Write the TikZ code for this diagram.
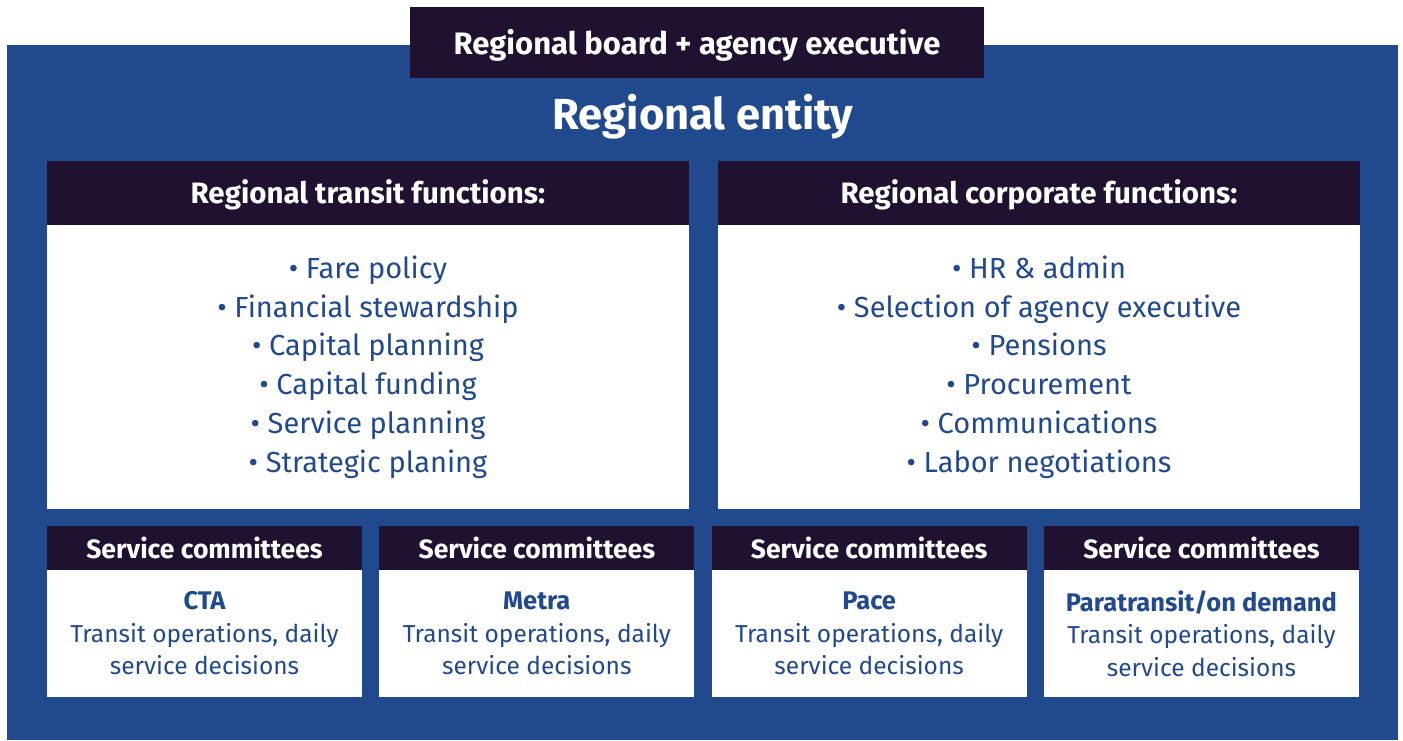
\documentclass[tikz,border=0pt]{standalone}
\usepackage{fontspec}
\setmainfont{Fira Sans}
\usepackage{tikz}
\usetikzlibrary{positioning}
\definecolor{entityblue}{HTML}{214A8E}
\definecolor{headdark}{HTML}{211131}

\begin{document}
\begin{tikzpicture}[x=1pt, y=1pt, inner sep=0pt, outer sep=0pt,
  headbox/.style={rectangle, fill=headdark, text=white, font=\bfseries\fontsize{29.5}{32}\selectfont, text centered, text depth=2pt},
  listbox/.style={rectangle, fill=white, text=entityblue, align=center, font=\fontsize{29}{38.8}\selectfont},
  smallhead/.style={rectangle, fill=headdark, text=white, font=\bfseries\fontsize{26.5}{28}\selectfont, minimum width=315pt, minimum height=44pt},
  smallbody/.style={rectangle, fill=white, text=entityblue, align=center, font=\fontsize{24.5}{32.5}\selectfont, minimum width=315pt, minimum height=127pt}]

  \useasboundingbox (0,0) rectangle (1403,-740);

  % Regional entity background
  \node[rectangle, fill=entityblue, minimum width=1391pt, minimum height=695pt] (entity) at (702.5,-392.5) {};
  \node[headbox, minimum width=574pt, minimum height=71pt, font=\bfseries\fontsize{31}{34}\selectfont] (board) at (697,-42.5) {Regional board + agency executive};
  \node[text=white, font=\bfseries\fontsize{43.5}{48}\selectfont] (title) at (703,-117) {Regional entity};

  % Regional functions
  \node[headbox, minimum width=642pt, minimum height=64pt] (TH) at (368,-193) {Regional transit functions:};
  \node[listbox, minimum width=642pt, minimum height=284pt, below=0pt of TH] (TB)
    {• Fare policy\\ • Financial stewardship\\ • Capital planning\\ • Capital funding\\ • Service planning\\ • Strategic planing};
  \node[headbox, minimum width=642pt, minimum height=64pt, right=29pt of TH] (CH) {Regional corporate functions:};
  \node[listbox, minimum width=642pt, minimum height=284pt, below=0pt of CH] (CB)
    {• HR \& admin\\ • Selection of agency executive\\ • Pensions\\ • Procurement\\ • Communications\\ • Labor negotiations};

  % Service committees
  \node[smallhead] (S1) at (204.5,-548) {Service committees};
  \node[smallhead, right=17.33pt of S1] (S2) {Service committees};
  \node[smallhead, right=17.33pt of S2] (S3) {Service committees};
  \node[smallhead, right=17.33pt of S3] (S4) {Service committees};

  \node[smallbody, below=0pt of S1] (B1) {{\bfseries\fontsize{25.5}{26}\selectfont CTA}\\ Transit operations, daily\\ service decisions};
  \node[smallbody, below=0pt of S2] (B2) {{\bfseries\fontsize{25.5}{26}\selectfont Metra}\\ Transit operations, daily\\ service decisions};
  \node[smallbody, below=0pt of S3] (B3) {{\bfseries\fontsize{25.5}{26}\selectfont Pace}\\ Transit operations, daily\\ service decisions};
  \node[smallbody, below=0pt of S4] (B4) {{\bfseries\fontsize{25.5}{26}\selectfont Paratransit/on demand}\\ Transit operations, daily\\ service decisions};

\end{tikzpicture}
\end{document}
